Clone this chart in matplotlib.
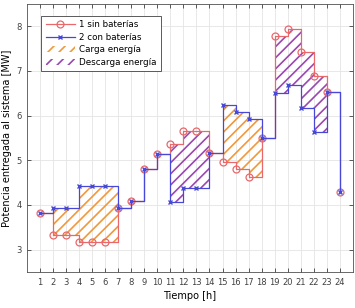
import matplotlib
matplotlib.use('Agg')
import matplotlib.pyplot as plt
import numpy as np

hours = np.arange(1, 25)
sin_baterias = [3.83, 3.32, 3.32, 3.16, 3.16, 3.16, 3.93, 4.09, 4.80, 5.14, 5.36, 5.66,
                5.66, 5.16, 4.97, 4.80, 4.63, 5.50, 7.78, 7.95, 7.43, 6.88, 6.54, 4.28]
con_baterias = [3.83, 3.94, 3.94, 4.42, 4.42, 4.42, 3.93, 4.09, 4.80, 5.14, 4.07, 4.38,
                4.38, 5.16, 6.24, 6.09, 5.92, 5.50, 6.51, 6.69, 6.17, 5.64, 6.54, 4.28]
carga_tramos = [(2, 7), (15, 18)]
descarga_tramos = [(11, 14), (19, 23)]

RED = '#e8686c'
BLUE = '#4848d8'
ORANGE = '#f0983a'
PURPLE = '#9a48b0'

plt.rcParams['hatch.linewidth'] = 1.2
plt.rcParams['font.family'] = 'DejaVu Sans'

fig = plt.figure(figsize=(3.55, 3.08), dpi=100)
ax = fig.add_axes([0.076, 0.117, 0.918, 0.870])

sin = np.array(sin_baterias)
con = np.array(con_baterias)


def rellenar(tramos, color, label):
    for i, (a, b) in enumerate(tramos):
        m = (hours >= a) & (hours <= b)
        ax.fill_between(hours[m], sin[m], con[m], step='post', facecolor='none',
                        edgecolor=color, hatch='///', linewidth=0,
                        label=label if i == 0 else None)


ax.step(hours, sin, where='post', color=RED, lw=0.9, marker='o', ms=5,
        mfc='none', mec=RED, mew=0.9, label='1 sin baterías')
ax.step(hours, con, where='post', color=BLUE, lw=0.9, marker='x', ms=3.5,
        mec=BLUE, mew=1.0, label='2 con baterías')
rellenar(carga_tramos, ORANGE, 'Carga energía')
rellenar(descarga_tramos, PURPLE, 'Descarga energía')

ax.set_xlim(0, 25)
ax.set_ylim(2.5, 8.5)
ax.set_xticks(hours)
ax.set_yticks([3, 4, 5, 6, 7, 8])
ax.tick_params(direction='in', top=True, right=True, labelsize=6, length=3,
               width=0.6, colors='#404040', pad=4)
ax.grid(True, color='#e4e4e4', lw=0.6)
ax.set_axisbelow(True)
for s in ax.spines.values():
    s.set_color('#505050')
    s.set_linewidth(0.6)

ax.set_xlabel('Tiempo [h]', fontsize=7, labelpad=3)
ax.set_ylabel('Potencia entregada al sistema [MW]', fontsize=7, labelpad=3)

leg = ax.legend(loc='upper left', bbox_to_anchor=(0.03, 0.972), fontsize=6.3,
                handlelength=3.4, handletextpad=0.4, borderpad=0.5,
                labelspacing=0.4, fancybox=False, framealpha=1,
                edgecolor='#404040')
leg.get_frame().set_linewidth(0.6)

fig.savefig('out.png', dpi=100)
